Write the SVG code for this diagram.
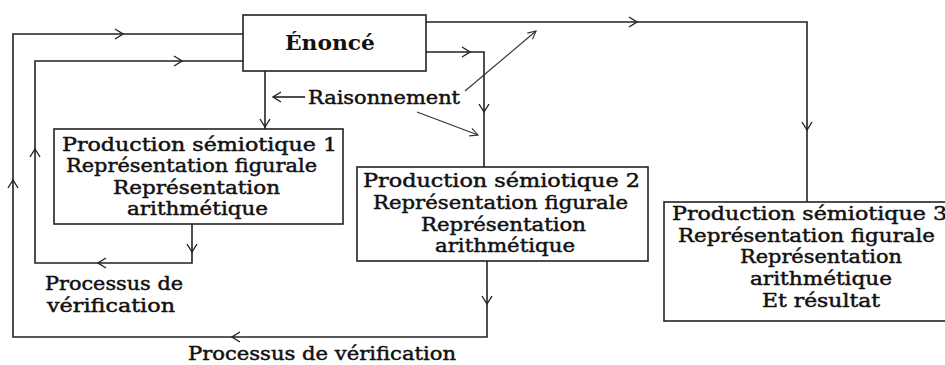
<svg xmlns="http://www.w3.org/2000/svg" xmlns:xlink="http://www.w3.org/1999/xlink" width="945" height="365" viewBox="0 0 945 365">
<style>
.box{fill:#fff;stroke:#222;stroke-width:1.6}
.ln{fill:none;stroke:#222;stroke-width:1.6}
.thin{fill:none;stroke:#333;stroke-width:1.1}
.t{font-family:"DejaVu Serif","Liberation Serif",serif;font-size:18px;fill:#111;stroke:#111;stroke-width:0.45}
.b{font-family:"DejaVu Serif","Liberation Serif",serif;font-size:20px;font-weight:bold;fill:#111}
</style>
<defs>
<path id="ah" d="M-8,-5 L0,0 L-8,5" fill="none" stroke="#222" stroke-width="1.4"/>
<path id="ahs" d="M-8,-4 L0,0 L-8,4" fill="none" stroke="#333" stroke-width="1.1"/>
</defs>
<rect width="945" height="365" fill="#fff"/>
<g id="connectors">
<path class="ln" d="M243,34 H13 V337 H487 V261"/>
<path class="ln" d="M243,61 H35 V263 H192 V224"/>
<path class="ln" d="M265,71 V129"/>
<path class="ln" d="M426,52 H484 V167"/>
<path class="ln" d="M426,22 H807 V202"/>
<path class="ln" d="M305,97 H273"/>
<path class="thin" d="M465,91 L536,31"/>
<path class="thin" d="M417,112 L478,135"/>
<use xlink:href="#ah" transform="translate(123,34)"/>
<use xlink:href="#ah" transform="translate(182,61)"/>
<use xlink:href="#ah" transform="translate(13,180) rotate(-90)"/>
<use xlink:href="#ah" transform="translate(35,149) rotate(-90)"/>
<use xlink:href="#ah" transform="translate(98,263) rotate(180)"/>
<use xlink:href="#ah" transform="translate(232,337) rotate(180)"/>
<use xlink:href="#ah" transform="translate(192,252) rotate(90)"/>
<use xlink:href="#ah" transform="translate(487,304) rotate(90)"/>
<use xlink:href="#ah" transform="translate(265,127) rotate(90)"/>
<use xlink:href="#ah" transform="translate(470,52)"/>
<use xlink:href="#ah" transform="translate(484,112) rotate(90)"/>
<use xlink:href="#ah" transform="translate(637,22)"/>
<use xlink:href="#ah" transform="translate(807,130) rotate(90)"/>
<use xlink:href="#ah" transform="translate(273,97) rotate(180)"/>
<use xlink:href="#ahs" transform="translate(536,31) rotate(-40.2)"/>
<use xlink:href="#ahs" transform="translate(478,135) rotate(20.7)"/>
</g>
<g id="node-enonce">
<rect class="box" x="243" y="15" width="183" height="56"/>
<text class="b" x="285" y="50" textLength="90" lengthAdjust="spacingAndGlyphs">Énoncé</text>
</g>
<g id="node-p1">
<rect class="box" x="54" y="129" width="289" height="95"/>
<text class="t" x="62" y="151" textLength="275" lengthAdjust="spacingAndGlyphs">Production  sémiotique 1</text>
<text class="t" x="66" y="172" textLength="251" lengthAdjust="spacingAndGlyphs">Représentation figurale</text>
<text class="t" x="113" y="194" textLength="167" lengthAdjust="spacingAndGlyphs">Représentation</text>
<text class="t" x="127" y="215" textLength="141" lengthAdjust="spacingAndGlyphs">arithmétique</text>
</g>
<g id="node-p2">
<rect class="box" x="357" y="167" width="291" height="94"/>
<text class="t" x="363" y="187" textLength="277" lengthAdjust="spacingAndGlyphs">Production  sémiotique 2</text>
<text class="t" x="373" y="209" textLength="255" lengthAdjust="spacingAndGlyphs">Représentation figurale</text>
<text class="t" x="421" y="231" textLength="165" lengthAdjust="spacingAndGlyphs">Représentation</text>
<text class="t" x="435" y="252" textLength="140" lengthAdjust="spacingAndGlyphs">arithmétique</text>
</g>
<g id="node-p3">
<rect class="box" x="664" y="202" width="300" height="119"/>
<text class="t" x="672" y="220" textLength="275" lengthAdjust="spacingAndGlyphs">Production  sémiotique 3</text>
<text class="t" x="678" y="242" textLength="257" lengthAdjust="spacingAndGlyphs">Représentation figurale</text>
<text class="t" x="740" y="263" textLength="162" lengthAdjust="spacingAndGlyphs">Représentation</text>
<text class="t" x="750" y="285" textLength="142" lengthAdjust="spacingAndGlyphs">arithmétique</text>
<text class="t" x="762" y="307" textLength="118" lengthAdjust="spacingAndGlyphs">Et résultat</text>
</g>
<g id="label-raisonnement">
<text class="t" x="308" y="104" textLength="152" lengthAdjust="spacingAndGlyphs">Raisonnement</text>
</g>
<g id="label-verification-1">
<text class="t" x="45" y="290" textLength="138" lengthAdjust="spacingAndGlyphs">Processus de</text>
<text class="t" x="47" y="312" textLength="128" lengthAdjust="spacingAndGlyphs">vérification</text>
</g>
<g id="label-verification-2">
<text class="t" x="188" y="360" textLength="268" lengthAdjust="spacingAndGlyphs">Processus de vérification</text>
</g>
</svg>
